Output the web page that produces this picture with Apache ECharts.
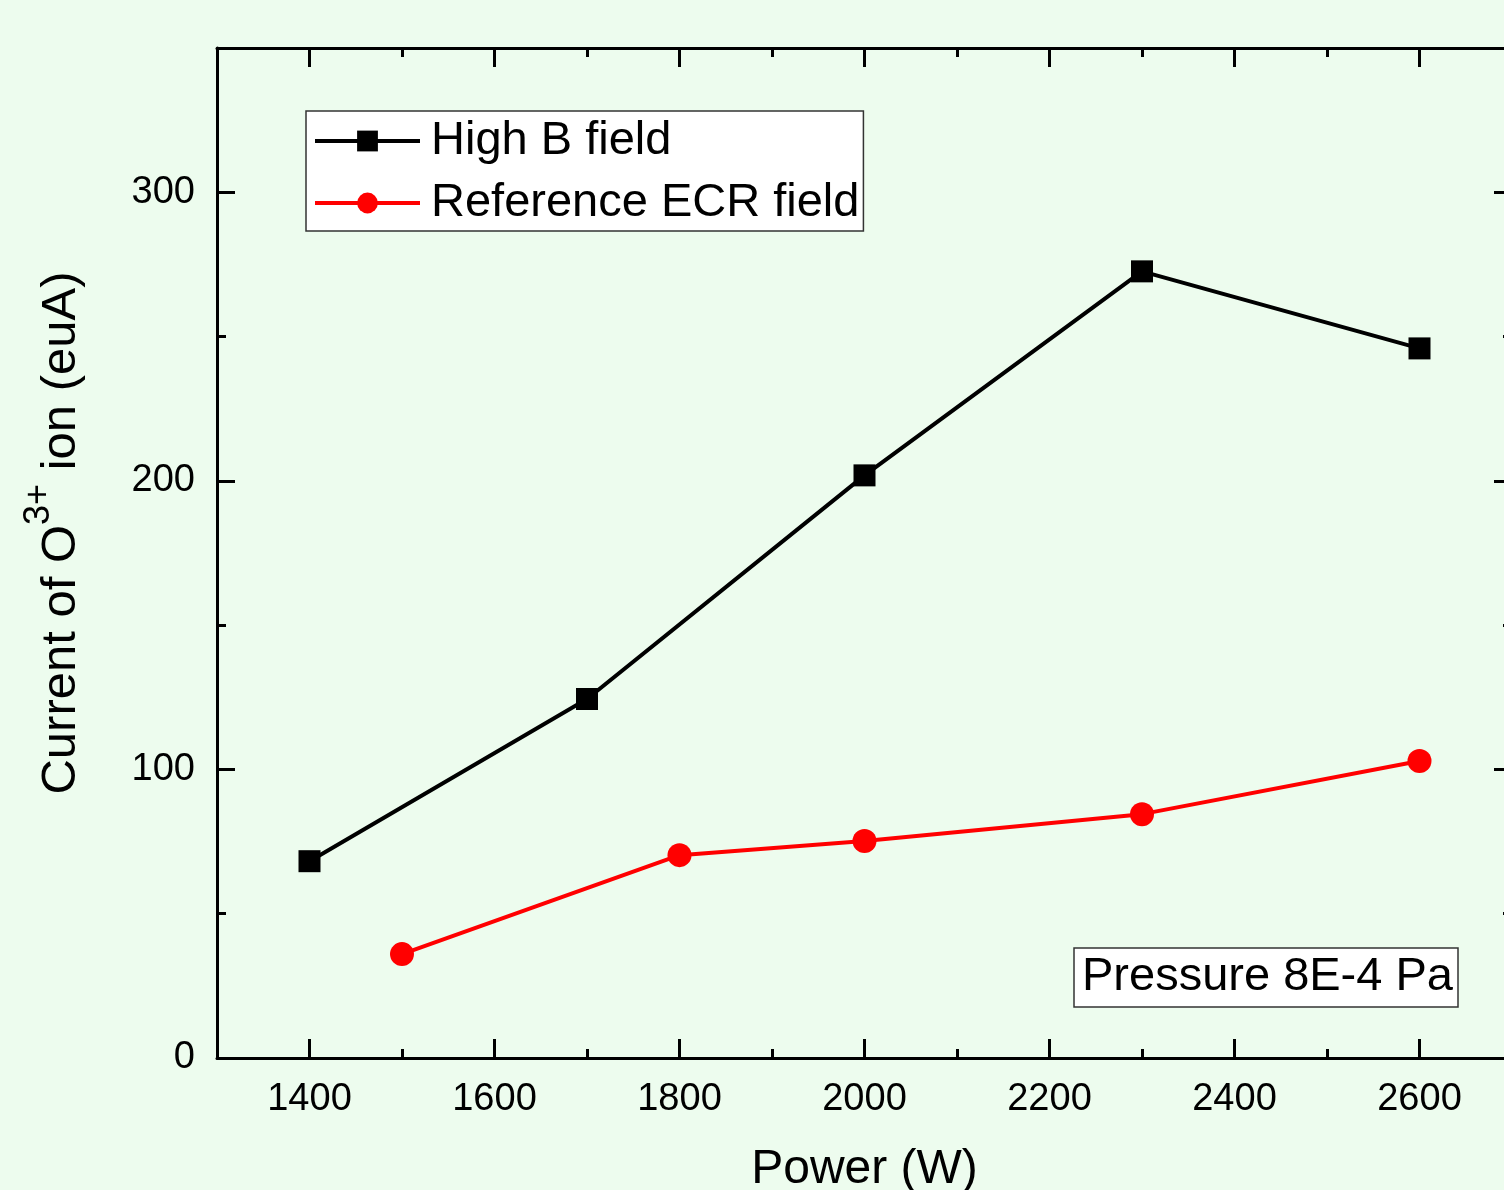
<!DOCTYPE html>
<html>
<head>
<meta charset="utf-8">
<style>
  html, body { margin: 0; padding: 0; background: #edfcee; }
  #chart { width: 1504px; height: 1190px; }
</style>
<script src="https://cdn.jsdelivr.net/npm/echarts@6/dist/echarts.min.js"></script>
</head>
<body>
<div id="chart"></div>
<script>
  // data
  var powerHigh = [1400, 1700, 2000, 2300, 2600];
  var currentHigh = [68.2, 124.4, 201.9, 272.6, 245.9];
  var powerRef = [1500, 1800, 2000, 2300, 2600];
  var currentRef = [36.0, 70.3, 75.2, 84.5, 102.9];

  var xMajor = [1400, 1600, 1800, 2000, 2200, 2400, 2600];
  var xMinor = [1500, 1700, 1900, 2100, 2300, 2500];
  var yMajor = [0, 100, 200, 300];
  var yMinor = [50, 150, 250];

  var font = 'Liberation Sans, Arial, sans-serif';

  function pairs(xs, ys) {
    var out = [];
    for (var i = 0; i < xs.length; i++) out.push([xs[i], ys[i]]);
    return out;
  }

  // one axis per side for the long ticks and one for the short ticks
  function axis(pos, min, max, ticks, len, withLine, labels) {
    return {
      type: 'value',
      position: pos,
      min: min,
      max: max,
      axisLine: { show: withLine, onZero: false, lineStyle: { color: '#000', width: 3 } },
      axisTick: {
        show: true,
        inside: true,
        length: len,
        customValues: ticks,
        lineStyle: { color: '#000', width: 3 }
      },
      axisLabel: labels ? {
        show: true,
        customValues: labels,
        formatter: function (v) { return String(v); },
        color: '#000',
        fontFamily: font,
        fontSize: 38
      } : { show: false },
      splitLine: { show: false }
    };
  }

  var xBottom = axis('bottom', 1300, 2700, xMajor, 19, true, xMajor);
  xBottom.axisLabel.margin = 23;
  xBottom.name = 'Power (W)';
  xBottom.nameLocation = 'middle';
  xBottom.nameGap = 88;
  xBottom.nameTextStyle = { color: '#000', fontFamily: font, fontSize: 48 };

  var yLeft = axis('left', 0, 350, yMajor, 18, true, yMajor);
  yLeft.axisLabel.margin = 22;
  yLeft.name = '{a|Current of O}{s|3+}{a| ion (euA)}';
  yLeft.nameLocation = 'middle';
  yLeft.nameRotate = 90;
  yLeft.nameGap = 116;
  yLeft.nameTextStyle = {
    color: '#000',
    fontFamily: font,
    padding: [0, 0, 0, 40],
    rich: {
      a: { fontFamily: font, fontSize: 49, lineHeight: 80, color: '#000' },
      s: { fontFamily: font, fontSize: 36, lineHeight: 80, verticalAlign: 'top', color: '#000' }
    }
  };

  var chart = echarts.init(document.getElementById('chart'));
  var option = {
    backgroundColor: '#edfcee',
    animation: false,
    grid: {
      left: 217,
      right: -8,
      top: 48,
      bottom: 132,
      containLabel: false,
      outerBoundsMode: 'none'
    },
    title: {
      text: 'Pressure 8E-4 Pa',
      left: 1074,
      top: 948,
      padding: [4, 5, 4, 8],
      backgroundColor: '#fff',
      borderColor: '#333',
      borderWidth: 1.5,
      textStyle: {
        color: '#000',
        fontFamily: font,
        fontWeight: 'normal',
        fontSize: 47,
        lineHeight: 51
      }
    },
    legend: {
      orient: 'vertical',
      left: 306,
      top: 111,
      padding: [5, 4, 3, 7],
      itemGap: 12,
      itemWidth: 105,
      itemHeight: 26,
      backgroundColor: '#fff',
      borderColor: '#333',
      borderWidth: 1.5,
      borderRadius: 0,
      lineStyle: { width: 4 },
      data: ['High B field', 'Reference ECR field'],
      textStyle: {
        color: '#000',
        fontFamily: font,
        fontSize: 47,
        lineHeight: 50,
        padding: [0, 0, 0, 6]
      }
    },
    xAxis: [
      xBottom,
      axis('bottom', 1300, 2700, xMinor, 9, false, null),
      axis('top', 1300, 2700, xMajor, 19, true, null),
      axis('top', 1300, 2700, xMinor, 9, false, null)
    ],
    yAxis: [
      yLeft,
      axis('left', 0, 350, yMinor, 9, false, null),
      axis('right', 0, 350, yMajor, 18, true, null),
      axis('right', 0, 350, yMinor, 9, false, null)
    ],
    series: [
      {
        name: 'High B field',
        type: 'line',
        data: pairs(powerHigh, currentHigh),
        symbol: 'rect',
        symbolSize: 22,
        lineStyle: { color: '#000', width: 4 },
        itemStyle: { color: '#000' }
      },
      {
        name: 'Reference ECR field',
        type: 'line',
        data: pairs(powerRef, currentRef),
        symbol: 'circle',
        symbolSize: 24,
        lineStyle: { color: '#ff0000', width: 4 },
        itemStyle: { color: '#ff0000' }
      }
    ]
  };
  chart.setOption(option);
</script>
</body>
</html>
